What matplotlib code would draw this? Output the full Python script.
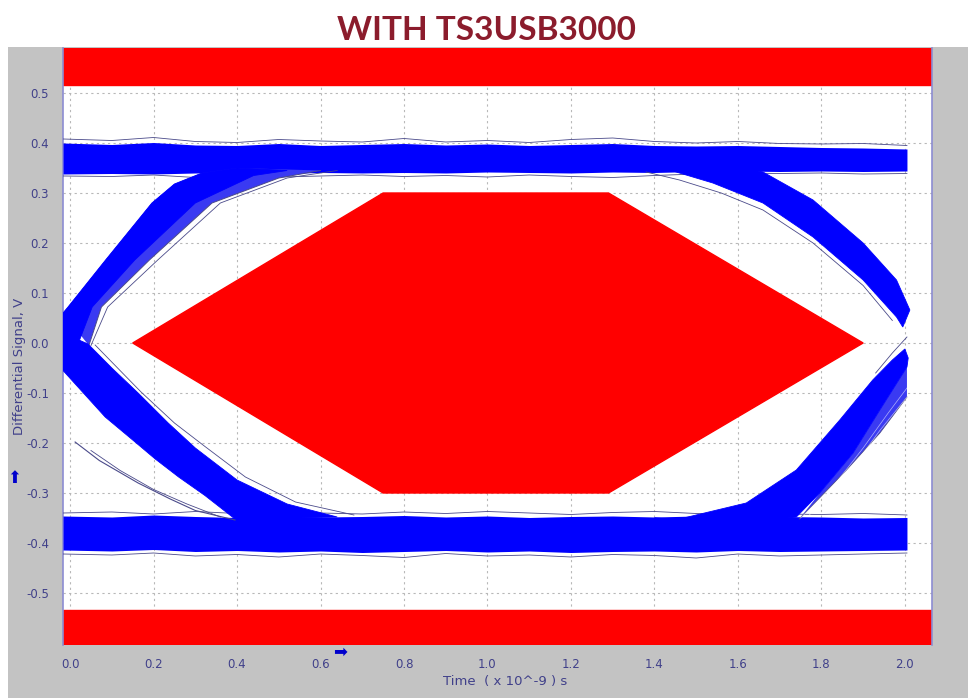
import matplotlib
matplotlib.use("Agg")
import matplotlib.pyplot as plt
from matplotlib.patches import Rectangle

# ---- values ----
x_ticks = [0.0, 0.2, 0.4, 0.6, 0.8, 1.0, 1.2, 1.4, 1.6, 1.8, 2.0]
x_labels = ["0.0", "0.2", "0.4", "0.6", "0.8", "1.0", "1.2", "1.4", "1.6", "1.8", "2.0"]
y_ticks = [0.5, 0.4, 0.3, 0.2, 0.1, 0.0, -0.1, -0.2, -0.3, -0.4, -0.5]
y_labels = ["0.5", "0.4", "0.3", "0.2", "0.1", "0.0", "-0.1", "-0.2", "-0.3", "-0.4", "-0.5"]

# eye mask (hexagon) and the two limit bands
mask_x = [0.15, 0.75, 1.29, 1.90, 1.29, 0.75]
mask_y = [0.0, 0.30, 0.30, 0.0, -0.30, -0.30]
upper_limit = [0.516, 0.59]
lower_limit = [-0.604, -0.534]

# high / low rails
rail_x = [-0.017, 0.1, 0.2, 0.3, 0.4, 0.5, 0.6, 0.7, 0.8, 0.9, 1.0, 1.1, 1.2, 1.3, 1.4, 1.5, 1.6, 1.7, 1.8, 1.9, 2.005]
top_hi = [0.400, 0.397, 0.401, 0.396, 0.395, 0.399, 0.395, 0.397, 0.399, 0.396, 0.398, 0.395, 0.397, 0.399, 0.395, 0.394, 0.395, 0.393, 0.391, 0.390, 0.388]
top_lo = [0.338, 0.339, 0.338, 0.340, 0.341, 0.339, 0.341, 0.340, 0.341, 0.340, 0.342, 0.341, 0.340, 0.342, 0.341, 0.343, 0.344, 0.343, 0.344, 0.343, 0.344]
top_edge = [0.408, 0.405, 0.411, 0.403, 0.401, 0.407, 0.404, 0.402, 0.409, 0.402, 0.405, 0.401, 0.407, 0.410, 0.403, 0.400, 0.403, 0.399, 0.398, 0.399, 0.395]
top_low_edge = [0.334, 0.333, 0.336, 0.331, 0.335, 0.332, 0.334, 0.336, 0.333, 0.335, 0.332, 0.336, 0.333, 0.331, 0.335, 0.338, 0.340, 0.339, 0.340, 0.338, 0.339]
bot_hi = [-0.346, -0.348, -0.344, -0.347, -0.349, -0.346, -0.348, -0.347, -0.345, -0.348, -0.346, -0.349, -0.347, -0.346, -0.348, -0.346, -0.349, -0.347, -0.348, -0.350, -0.349]
bot_lo = [-0.414, -0.416, -0.413, -0.417, -0.415, -0.418, -0.416, -0.419, -0.417, -0.415, -0.418, -0.416, -0.419, -0.417, -0.416, -0.418, -0.415, -0.417, -0.416, -0.415, -0.414]
bot_edge = [-0.422, -0.424, -0.420, -0.426, -0.423, -0.428, -0.422, -0.425, -0.429, -0.421, -0.426, -0.424, -0.428, -0.423, -0.425, -0.430, -0.422, -0.426, -0.424, -0.422, -0.420]
bot_up_edge = [-0.340, -0.338, -0.342, -0.337, -0.341, -0.336, -0.340, -0.342, -0.338, -0.341, -0.337, -0.340, -0.343, -0.339, -0.337, -0.341, -0.344, -0.342, -0.343, -0.341, -0.344]

# left crossing: rising edge (outer edge, dark core inner edge, spread inner edge)
rise_l_out_x = [-0.017, -0.005, 0.085, 0.196, 0.25, 0.316, 0.40]
rise_l_out_y = [0.060, 0.072, 0.166, 0.280, 0.318, 0.340, 0.350]
rise_l_core_x = [0.52, 0.44, 0.30, 0.155, 0.053, 0.020, -0.017]
rise_l_core_y = [0.345, 0.335, 0.280, 0.166, 0.072, 0.0, -0.005]
rise_l_in_x = [0.045, 0.075, 0.19, 0.34, 0.50, 0.60]
rise_l_in_y = [-0.005, 0.072, 0.166, 0.280, 0.330, 0.345]
rise_l_thin_x = [0.05, 0.09, 0.21, 0.36, 0.52, 0.64]
rise_l_thin_y = [-0.005, 0.072, 0.166, 0.280, 0.330, 0.345]

# left crossing: falling edge
fall_l_out_x = [-0.017, 0.084, 0.15, 0.204, 0.26, 0.323, 0.395]
fall_l_out_y = [-0.055, -0.148, -0.194, -0.232, -0.268, -0.305, -0.352]
fall_l_in_x = [0.64, 0.52, 0.40, 0.30, 0.235, 0.163, 0.10, 0.043, -0.017]
fall_l_in_y = [-0.348, -0.322, -0.274, -0.210, -0.160, -0.100, -0.050, -0.002, 0.020]
fall_l_thin_x = [0.06, 0.17, 0.25, 0.32, 0.42, 0.54, 0.68]
fall_l_thin_y = [-0.004, -0.098, -0.160, -0.205, -0.268, -0.318, -0.344]

# stray slow traces at lower left
stray_x = [0.012, 0.07, 0.163, 0.24, 0.30, 0.395]
stray_y = [-0.198, -0.235, -0.280, -0.312, -0.335, -0.354]
stray2_x = [0.05, 0.12, 0.20, 0.28, 0.36]
stray2_y = [-0.215, -0.255, -0.293, -0.322, -0.348]

# right crossing: falling edge
fall_r_out_x = [1.55, 1.66, 1.78, 1.90, 1.98, 2.012]
fall_r_out_y = [0.360, 0.342, 0.286, 0.200, 0.126, 0.066]
fall_r_in_x = [1.995, 1.98, 1.90, 1.78, 1.66, 1.54, 1.44]
fall_r_in_y = [0.032, 0.052, 0.126, 0.212, 0.280, 0.320, 0.345]
fall_r_thin_x = [1.38, 1.46, 1.56, 1.66, 1.78, 1.90, 1.97]
fall_r_thin_y = [0.342, 0.326, 0.300, 0.266, 0.200, 0.115, 0.045]

# right crossing: rising edge (main band and the looser strands to its right)
rise_r_out_x = [1.40, 1.46, 1.62, 1.74, 1.844, 1.923, 1.97, 2.0]
rise_r_out_y = [-0.350, -0.352, -0.320, -0.254, -0.154, -0.074, -0.034, -0.012]
rise_r_in_x = [2.008, 2.005, 1.94, 1.876, 1.796, 1.74, 1.60]
rise_r_in_y = [-0.030, -0.048, -0.134, -0.220, -0.300, -0.348, -0.360]
rise_r_spread_x = [1.747, 1.86, 1.94, 2.005]
rise_r_spread_y = [-0.352, -0.254, -0.180, -0.108]
rise_r_thin_x = [1.75, 1.83, 1.90, 1.96, 2.005]
rise_r_thin_y = [-0.350, -0.285, -0.210, -0.140, -0.090]
rise_r_thin2_x = [1.77, 1.87, 1.94, 2.005]
rise_r_thin2_y = [-0.345, -0.255, -0.175, -0.108]
rise_r_thin3_x = [1.93, 1.97, 2.005]
rise_r_thin3_y = [-0.060, -0.020, 0.012]

BLUE = "#0000ff"
SPREAD = "#3a3af2"
GREY_TRACE = "#4a4a8a"
LABEL = "#40408a"

fig = plt.figure(figsize=(9.72, 6.98), dpi=100)
fig.patch.set_facecolor("white")
panel = Rectangle((8 / 972, 0), 960 / 972, 1 - 47 / 698,
                  transform=fig.transFigure, facecolor="#c3c3c3",
                  edgecolor="none", zorder=-10)
fig.add_artist(panel)

ax = fig.add_axes([63 / 972, 1 - 645 / 698, 869 / 972, 597 / 698])
ax.set_zorder(1)
ax.set_facecolor("white")
ax.set_xlim(-0.017, 2.065)
ax.set_ylim(-0.604, 0.59)

ax.grid(True, color="#b8b8b8", linestyle=(0, (2, 3)), linewidth=0.8)
ax.set_axisbelow(True)

# limit bands and mask
ax.axhspan(upper_limit[0], upper_limit[1], color="#ff0000", zorder=2)
ax.axhspan(lower_limit[0], lower_limit[1], color="#ff0000", zorder=2)
ax.fill(mask_x, mask_y, color="#ff0000", zorder=2)

# rails
ax.fill_between(rail_x, top_lo, top_hi, color=BLUE, lw=0, zorder=3)
ax.fill_between(rail_x, bot_lo, bot_hi, color=BLUE, lw=0, zorder=3)
for edge in [top_edge, top_low_edge, bot_edge, bot_up_edge]:
    ax.plot(rail_x, edge, color=GREY_TRACE, lw=0.6, zorder=3)

# transitions: loose spread first, dark core on top
ax.fill(rise_l_out_x + rise_l_in_x[::-1], rise_l_out_y + rise_l_in_y[::-1],
        color=SPREAD, lw=0, zorder=3)
ax.fill(rise_l_out_x + rise_l_core_x, rise_l_out_y + rise_l_core_y,
        color=BLUE, lw=0.6, zorder=3)
ax.plot(rise_l_in_x, rise_l_in_y, color=GREY_TRACE, lw=0.7, zorder=3)
ax.plot(rise_l_thin_x, rise_l_thin_y, color=GREY_TRACE, lw=0.6, zorder=3)

ax.fill(fall_l_out_x + fall_l_in_x, fall_l_out_y + fall_l_in_y, color=BLUE, lw=0.6, zorder=3)
ax.plot(fall_l_thin_x, fall_l_thin_y, color=GREY_TRACE, lw=0.6, zorder=3)

ax.fill(fall_r_out_x + fall_r_in_x, fall_r_out_y + fall_r_in_y, color=BLUE, lw=0.6, zorder=3)
ax.plot(fall_r_thin_x, fall_r_thin_y, color=GREY_TRACE, lw=0.6, zorder=3)

ax.fill(rise_r_spread_x + rise_r_in_x[1:5], rise_r_spread_y + rise_r_in_y[1:5],
        color=SPREAD, lw=0, zorder=3)
ax.fill(rise_r_out_x + rise_r_in_x, rise_r_out_y + rise_r_in_y, color=BLUE, lw=0.6, zorder=3)
ax.plot(rise_r_spread_x, rise_r_spread_y, color=GREY_TRACE, lw=0.6, zorder=3)
ax.plot(rise_r_thin_x, rise_r_thin_y, color="white", lw=0.5, alpha=0.6, zorder=3)
ax.plot(rise_r_thin2_x, rise_r_thin2_y, color="white", lw=0.5, alpha=0.6, zorder=3)
ax.plot(rise_r_thin3_x, rise_r_thin3_y, color=GREY_TRACE, lw=0.6, zorder=3)

ax.plot(stray_x, stray_y, color=GREY_TRACE, lw=0.8, zorder=3)
ax.plot(stray2_x, stray2_y, color=GREY_TRACE, lw=0.6, zorder=3)

# axes styling
ax.set_xticks(x_ticks)
ax.set_xticklabels(x_labels)
ax.set_yticks(y_ticks)
ax.set_yticklabels(y_labels)
ax.tick_params(length=0, labelsize=8.5, labelcolor=LABEL)
ax.tick_params(axis="x", pad=9)
ax.tick_params(axis="y", pad=10)
for s in ["top", "bottom"]:
    ax.spines[s].set_visible(False)
for s in ["left", "right"]:
    ax.spines[s].set_color("#8c8cd2")
    ax.spines[s].set_linewidth(1.2)

fig.text(505 / 972, 1 - 682 / 698, "Time  ( x 10^-9 ) s", ha="center", va="center",
         fontsize=9.5, color=LABEL)
fig.text(20 / 972, 1 - 366 / 698, "Differential Signal, V", ha="center", va="center",
         rotation=90, fontsize=9.5, color=LABEL)
fig.text(14 / 972, 1 - 478 / 698, "\u2b06", ha="center", va="center",
         fontsize=12, color="#0000cc")
fig.text(340 / 972, 1 - 652 / 698, "\u27a1", ha="center", va="center",
         fontsize=12, color="#0000cc")

fig.text(0.5, 1 - 30 / 698, "WITH TS3USB3000", ha="center", va="center",
         fontsize=24, fontweight="bold", family="Lato", color="#8b1c2c")

fig.savefig("out.png", dpi=100)
